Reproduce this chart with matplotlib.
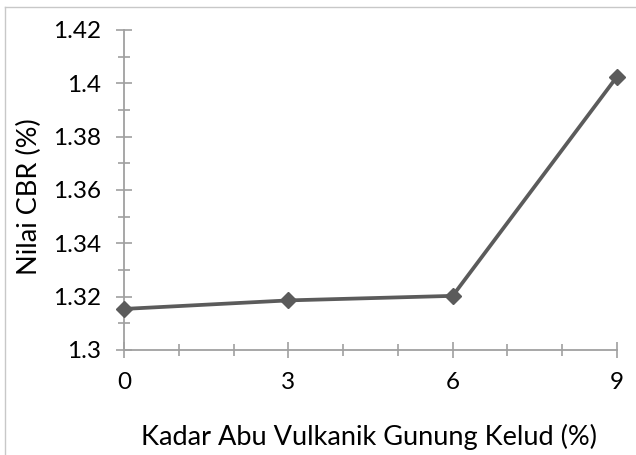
import matplotlib.pyplot as plt
from matplotlib.lines import Line2D
from matplotlib.ticker import MultipleLocator

# data
kadar_abu = [0, 3, 6, 9]
nilai_cbr = [1.3154, 1.3186, 1.3203, 1.4025]
x_ticks = [0, 3, 6, 9]
y_ticks = [1.3, 1.32, 1.34, 1.36, 1.38, 1.4, 1.42]
y_tick_labels = ['1.3', '1.32', '1.34', '1.36', '1.38', '1.4', '1.42']

plt.rcParams['font.family'] = ['Lato', 'DejaVu Sans']

fig = plt.figure(figsize=(6.36, 4.55), dpi=100)
ax = fig.add_axes([124 / 636, 1 - 350 / 455, (617 - 124) / 636, (350 - 30) / 455])

ax.plot(kadar_abu, nilai_cbr, color='#5b5b5b', linewidth=2.7, marker='D',
        markersize=8, markerfacecolor='#5b5b5b', markeredgecolor='#5b5b5b',
        clip_on=False, zorder=3)

ax.set_xlim(0, 9)
ax.set_ylim(1.3, 1.42)
ax.set_xticks(x_ticks)
ax.set_xticklabels([str(v) for v in x_ticks])
ax.set_yticks(y_ticks)
ax.set_yticklabels(y_tick_labels)
ax.xaxis.set_minor_locator(MultipleLocator(1))
ax.yaxis.set_minor_locator(MultipleLocator(0.01))

for side in ['top', 'right']:
    ax.spines[side].set_visible(False)
for side in ['left', 'bottom']:
    ax.spines[side].set_color('#a0a0a0')
    ax.spines[side].set_linewidth(1.3)

ax.tick_params(axis='both', which='major', direction='inout', length=11,
               width=1.2, color='#a0a0a0', labelsize=17.5, labelcolor='black')
ax.tick_params(axis='both', which='minor', direction='inout', length=8.5,
               width=1.2, color='#a0a0a0')
ax.tick_params(axis='y', which='major', pad=11)
ax.tick_params(axis='x', which='major', pad=10)

# axis titles placed as in the reference
fig.text(369 / 636, 1 - 437 / 455, 'Kadar Abu Vulkanik Gunung Kelud (%)',
         fontsize=19.5, ha='center', va='center')
fig.text(29 / 636, 1 - 197 / 455, 'Nilai CBR (%)', fontsize=19.5,
         rotation=90, ha='center', va='center')

# outer chart frame (cropped at right and bottom)
fx = 5 / 636
fy = 1 - 7 / 455
fig.add_artist(Line2D([fx, 1], [fy, fy], transform=fig.transFigure,
                      color='#c8c8c8', linewidth=1))
fig.add_artist(Line2D([fx, fx], [0, fy], transform=fig.transFigure,
                      color='#c8c8c8', linewidth=1))

fig.savefig('out.png', dpi=100)
